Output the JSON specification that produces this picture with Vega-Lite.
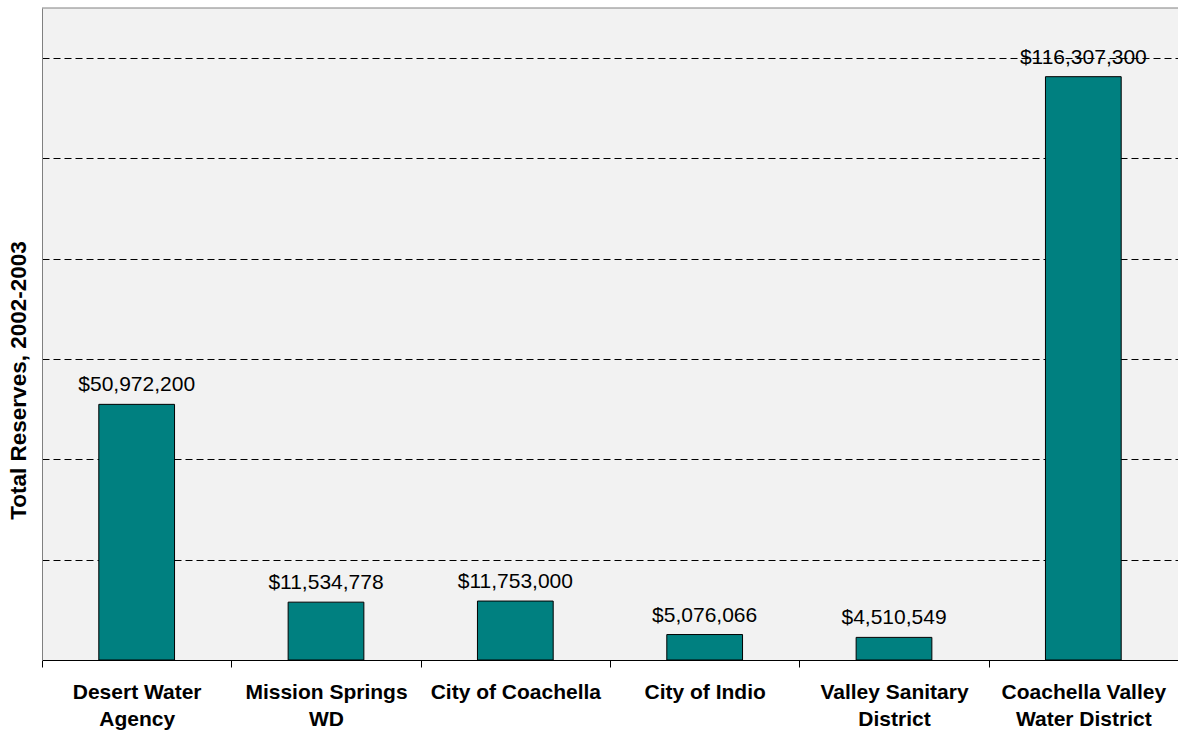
{
  "$schema": "https://vega.github.io/schema/vega-lite/v6.json",
  "autosize": "none",
  "width": 1136,
  "height": 652,
  "padding": {"left": 42, "top": 8, "right": 0, "bottom": 73},
  "background": "white",
  "config": {
    "view": {"fill": "#f2f2f2", "stroke": null},
    "font": "Liberation Sans"
  },
  "data": {
    "values": [
      {"agency": "Desert Water|Agency", "value": 50972200},
      {"agency": "Mission Springs|WD", "value": 11534778},
      {"agency": "City of Coachella", "value": 11753000},
      {"agency": "City of Indio", "value": 5076066},
      {"agency": "Valley Sanitary|District", "value": 4510549},
      {"agency": "Coachella Valley|Water District", "value": 116307300}
    ]
  },
  "layer": [
    {
      "mark": {"type": "bar", "fill": "#008080", "stroke": "black", "strokeWidth": 1, "width": {"band": 0.4}},
      "encoding": {
        "x": {
          "field": "agency", "type": "nominal", "sort": null,
          "scale": {"paddingInner": 0, "paddingOuter": 0},
          "axis": {
            "title": null, "labelAngle": 0, "tickBand": "extent",
            "labelExpr": "split(datum.label, '|')",
            "labelFont": "Liberation Sans", "labelFontSize": 21, "labelFontWeight": "bold",
            "labelColor": "black", "labelLineHeight": 27, "labelPadding": 14, "labelLimit": 0,
            "tickSize": 7, "tickColor": "black", "domainColor": "black", "domainWidth": 1
          }
        },
        "y": {
          "field": "value", "type": "quantitative",
          "scale": {"domain": [0, 130000000], "nice": false},
          "axis": {
            "title": "Total Reserves, 2002-2003",
            "titleFont": "Liberation Sans", "titleFontSize": 22.5, "titleFontWeight": "bold",
            "titleColor": "black", "titlePadding": 12, "titleY": 372,
            "labels": false, "ticks": false, "domainColor": "#808080",
            "grid": true, "gridColor": "black", "gridDash": [7, 4], "gridWidth": 1,
            "values": [20000000, 40000000, 60000000, 80000000, 100000000, 120000000]
          }
        }
      }
    },
    {
      "mark": {"type": "text", "baseline": "alphabetic", "dy": -13, "fontSize": 21, "color": "black", "font": "Liberation Sans"},
      "encoding": {
        "x": {"field": "agency", "type": "nominal", "sort": null},
        "y": {"field": "value", "type": "quantitative"},
        "text": {"field": "value", "type": "quantitative", "format": "$,d"}
      }
    },
    {
      "data": {"values": [{"top": 130000000}]},
      "mark": {"type": "rule", "color": "#808080", "strokeWidth": 1},
      "encoding": {"y": {"field": "top", "type": "quantitative"}}
    }
  ]
}
